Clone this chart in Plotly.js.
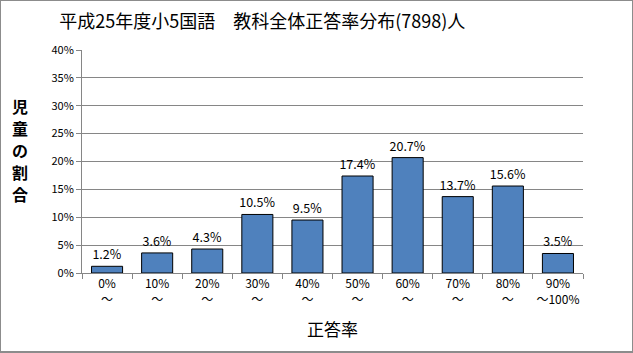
<!DOCTYPE html>
<html><head><meta charset="utf-8">
<script src="https://cdn.plot.ly/plotly-3.0.1.min.js"></script>
<style>html,body{margin:0;padding:0;background:#fff}#c{width:633px;height:353px;box-sizing:border-box;border:1px solid #8c8c8c;border-right-width:2px;border-bottom-width:2px}</style>
</head><body><div id="c"></div>
<script>
const categories = ["0%<br>～","10%<br>～","20%<br>～","30%<br>～","40%<br>～","50%<br>～","60%<br>～","70%<br>～","80%<br>～","90%<br>～100%"];
const values = [1.2, 3.6, 4.3, 10.5, 9.5, 17.4, 20.7, 13.7, 15.6, 3.5];
const yTickVals = [0,5,10,15,20,25,30,35,40];
const yTickText = yTickVals.map(v => v + "%");
const yTitleChars = ["児","童","の","割","合"];
const font = "'Noto Sans CJK JP', 'Noto Sans', sans-serif";
const yTitleAnns = yTitleChars.map((ch, i) => ({
  text: '<b>' + ch + '</b>', xref: 'paper', yref: 'paper', x: -0.124,
  y: 0.75 - i * 0.099, xanchor: 'center', yanchor: 'middle', showarrow: false,
  font: {family: font, size: 16, color: '#000'}
}));
Plotly.newPlot('c', [{
  type: 'bar', x: categories, y: values,
  marker: {color: '#4F81BD', line: {color: '#000', width: 1}},
  text: values.map(v => v.toFixed(1) + '%'), textposition: 'outside', constraintext: 'none',
  textfont: {family: font, size: 12.5, color: '#000'}, cliponaxis: false,
  hoverinfo: 'none'
}], {
  width: 631, height: 350,
  margin: {l: 81, r: 49, t: 49, b: 78},
  paper_bgcolor: '#fff', plot_bgcolor: '#fff',
  bargap: 0.38,
  showlegend: false,
  title: {text: '平成25年度小5国語　教科全体正答率分布(7898)人', font: {family: font, size: 18, color: '#000'}, xref: 'container', x: 0.414, xanchor: 'center', y: 0.94, yanchor: 'middle'},
  xaxis: {type: 'category', tickson: 'boundaries', ticks: 'outside', ticklen: 5, tickcolor: '#868686', tickangle: 0,
    showline: true, linecolor: '#868686', linewidth: 1,
    tickfont: {family: font, size: 12, color: '#000'},
    title: {text: '正答率', font: {family: font, size: 17, color: '#000'}, standoff: 18}},
  yaxis: {range: [0, 40], tickvals: yTickVals, ticktext: yTickText, ticks: 'outside', ticklen: 5, tickcolor: '#868686',
    showline: true, linecolor: '#868686', gridcolor: '#868686', gridwidth: 1, zeroline: false,
    tickfont: {family: font, size: 11, color: '#000'}},
  annotations: yTitleAnns
}, {displayModeBar: false, staticPlot: true});
</script></body></html>
